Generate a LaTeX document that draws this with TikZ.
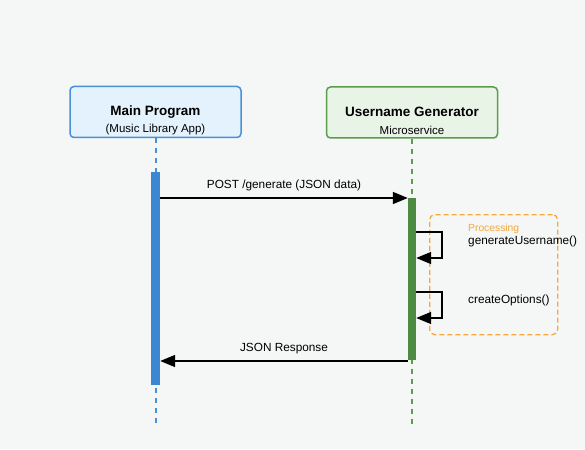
\documentclass[tikz,border=0pt]{standalone}
\usepackage{fontspec}
\setmainfont{Liberation Sans}
\usetikzlibrary{arrows.meta,positioning,calc}
\definecolor{bg}{HTML}{F5F6F6}
\definecolor{bluefill}{HTML}{E3F2FC}
\definecolor{bluedraw}{HTML}{4A90D9}
\definecolor{blueact}{HTML}{3C87D2}
\definecolor{greenfill}{HTML}{E8F4E6}
\definecolor{greendraw}{HTML}{5A9E4C}
\definecolor{greenact}{HTML}{4E8B42}
\definecolor{orangec}{HTML}{F5A73A}
\begin{document}
\begin{tikzpicture}[x=1pt,y=-1pt,
  actor/.style={rounded corners=4pt, line width=1.5pt, minimum width=171pt, minimum height=51pt, inner sep=0pt},
  title/.style={font=\fontsize{13.5}{15}\selectfont\bfseries},
  sub/.style={font=\fontsize{11.5}{13}\selectfont},
  life/.style={dashed, line width=1.5pt, dash pattern=on 5pt off 5pt},
  msg/.style={line width=1.5pt, -{Triangle[length=15pt,width=12pt]}},
  lbl/.style={font=\fontsize{11.8}{14}\selectfont},
  act/.style={inner sep=0pt, minimum width=9pt},
]
\fill[bg] (0,0) rectangle (585,449);
\useasboundingbox (0,0) rectangle (585,449);

% actors
\node[actor, draw=bluedraw, fill=bluefill] (main) at (155.5,112) {};
\node[title] (mainT) at (155.5,112) {Main Program};
\node[sub] (mainS) at (155.5,130) {(Music Library App)};
\node[actor, draw=greendraw, fill=greenfill] (ug) at (412,112.5) {};
\node[title] (ugT) at (412,112) {Username Generator};
\node[sub] (ugS) at (412,130) {Microservice};

% lifelines
\coordinate (mainEnd) at (156,425);
\coordinate (ugEnd) at (412,425);
\draw[life, bluedraw] (main.south -| mainEnd) -- (mainEnd);
\draw[life, greendraw] (ug.south -| ugEnd) -- (ugEnd);

% activations
\node[act, fill=blueact, minimum height=213pt, anchor=north] (mainA) at (155.5,172) {};
\node[act, fill=greenact, minimum width=8pt, minimum height=162pt, anchor=north] (ugA) at (412,198) {};

% processing box
\node[draw=orangec, dashed, dash pattern=on 5pt off 3pt, line width=1.3pt, rounded corners=5pt,
  minimum width=128pt, minimum height=120pt, anchor=north west, inner sep=0pt] (proc) at (429,214) {};
\node[font=\fontsize{10.3}{12}\selectfont, text=orangec, anchor=west, inner sep=0pt] (procL) at (468,228.5) {Processing};
\node[lbl, anchor=west, inner sep=0pt] (gen) at (468,241) {generateUsername()};
\node[lbl, anchor=west, inner sep=0pt] (opt) at (468,300) {createOptions()};

% messages
\coordinate (m1s) at (mainA.east |- 0,198);
\coordinate (m1e) at (ugA.west |- 0,198);
\draw[msg] (m1s) -- node[lbl, above=3pt] (m1L) {POST /generate (JSON data)} (m1e);

\coordinate (s1a) at (ugA.east |- 0,232);
\coordinate (s1b) at (442,232);
\coordinate (s1c) at (442,258);
\coordinate (s1d) at (ugA.east |- 0,258);
\draw[msg] (s1a) -- (s1b) -- (s1c) -- (s1d);

\coordinate (s2a) at (ugA.east |- 0,292);
\coordinate (s2b) at (442,292);
\coordinate (s2c) at (442,318);
\coordinate (s2d) at (ugA.east |- 0,318);
\draw[msg] (s2a) -- (s2b) -- (s2c) -- (s2d);

\coordinate (m2s) at (ugA.west |- 0,361);
\coordinate (m2e) at (mainA.east |- 0,361);
\draw[msg] (m2s) -- node[lbl, above=3pt] (m2L) {JSON Response} (m2e);
\end{tikzpicture}
\end{document}
